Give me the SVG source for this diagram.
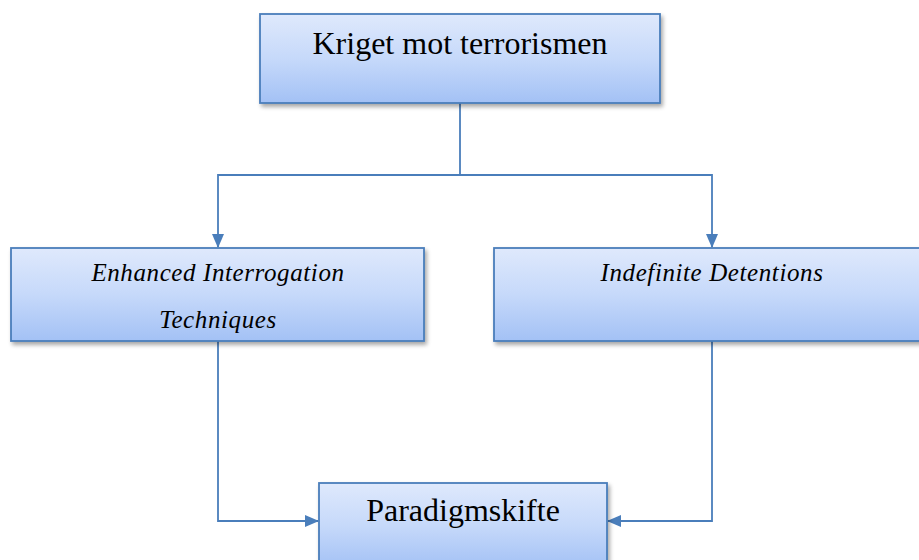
<svg xmlns="http://www.w3.org/2000/svg" width="919" height="560" viewBox="0 0 919 560">
<style>
.box{fill:url(#g);stroke:#4a7ebb;stroke-width:1.8;filter:url(#sh)}
.con{fill:none;stroke:#4a7ebb;stroke-width:1.8}
.t{font-family:"Liberation Serif","Times New Roman",serif;fill:#000;text-anchor:middle}
.big{font-size:32px}
.it{font-size:25px;font-style:italic;letter-spacing:0.6px}
</style>
<defs>
<linearGradient id="g" x1="0" y1="0" x2="0" y2="1">
<stop offset="0" stop-color="#dfe9fc"/>
<stop offset="0.5" stop-color="#c6d9fa"/>
<stop offset="1" stop-color="#a3c1f5"/>
</linearGradient>
<filter id="sh" x="-5%" y="-10%" width="115%" height="130%">
<feGaussianBlur in="SourceAlpha" stdDeviation="2"/>
<feOffset dx="2" dy="3"/>
<feComponentTransfer><feFuncA type="linear" slope="0.35"/></feComponentTransfer>
<feMerge><feMergeNode/><feMergeNode in="SourceGraphic"/></feMerge>
</filter>
<marker id="a" markerWidth="14" markerHeight="14" refX="13" refY="7" orient="auto" markerUnits="userSpaceOnUse" viewBox="0 0 14 14">
<path d="M0,1 L14,7 L0,13 z" fill="#4a7ebb"/>
</marker>
</defs>
<g id="connectors">
<path class="con" d="M460,103 V175 H218 V247" marker-end="url(#a)"/>
<path class="con" d="M460,175 H712 V247" marker-end="url(#a)"/>
<path class="con" d="M218,341 V521 H318" marker-end="url(#a)"/>
<path class="con" d="M712,341 V521 H608" marker-end="url(#a)"/>
</g>
<g id="n1">
<rect class="box" x="260" y="14" width="400" height="89"/>
<text class="t big" x="460" y="54">Kriget mot terrorismen</text>
</g>
<g id="n2">
<rect class="box" x="11" y="248" width="413" height="93"/>
<text class="t it" x="218" y="281">Enhanced Interrogation</text>
<text class="t it" x="218" y="328">Techniques</text>
</g>
<g id="n3">
<rect class="box" x="494" y="248" width="430" height="93"/>
<text class="t it" x="712" y="281">Indefinite Detentions</text>
</g>
<g id="n4">
<rect class="box" x="319" y="483" width="288" height="85"/>
<text class="t big" x="463" y="521">Paradigmskifte</text>
</g>
</svg>
